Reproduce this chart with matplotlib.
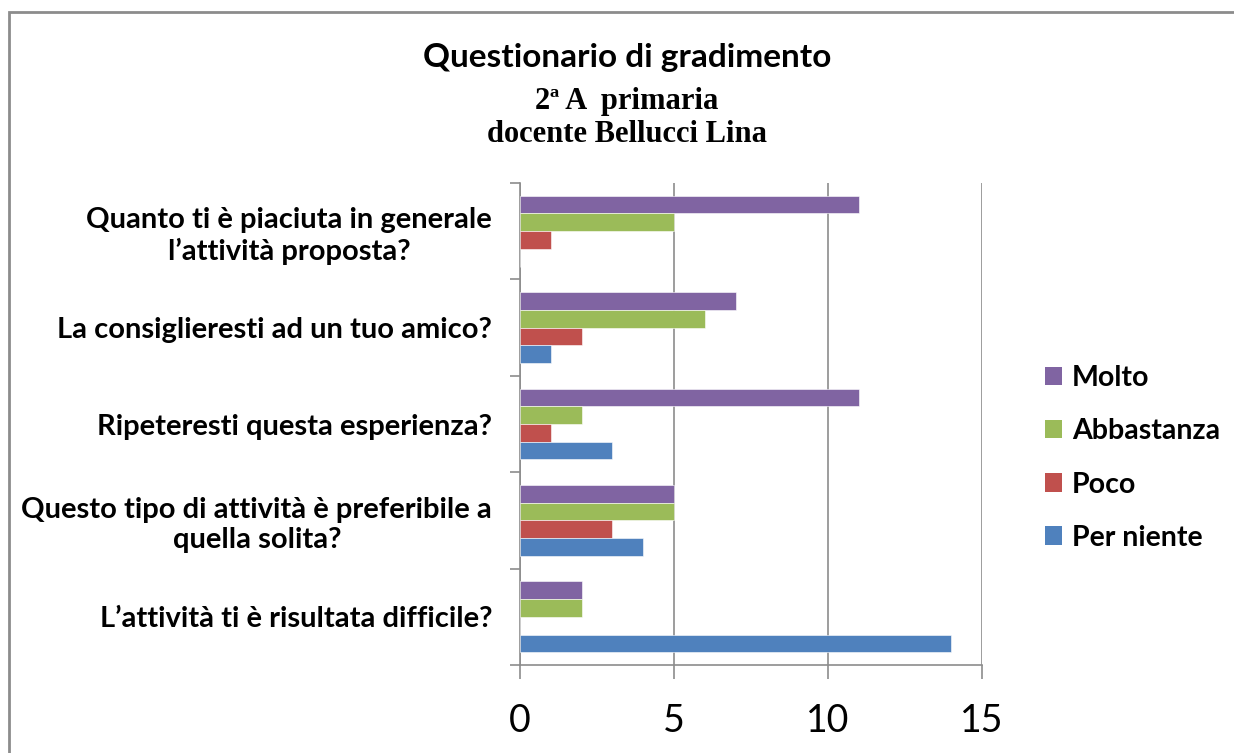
import matplotlib.pyplot as plt
import numpy as np
from matplotlib.patches import Rectangle, Patch

questions = [
    "Quanto ti è piaciuta in generale\nl\u2019attività proposta?",
    "La consiglieresti ad un tuo amico?",
    "Ripeteresti questa esperienza?",
    "Questo tipo di attività è preferibile a\nquella solita?",
    "L\u2019attività ti è risultata difficile?",
]
series = ["Molto", "Abbastanza", "Poco", "Per niente"]
molto = [11, 7, 11, 5, 2]
abbastanza = [5, 6, 2, 5, 2]
poco = [1, 2, 1, 3, 0]
per_niente = [0, 1, 3, 4, 14]
colors = ["#8064A2", "#9BBB59", "#C0504D", "#4F81BD"]

sans = "Lato"
grey = "#8c8c8c"

fig = plt.figure(figsize=(12.34, 7.53), dpi=100)
ax = fig.add_axes([520 / 1234, 1 - 665 / 753, 462 / 1234, 482 / 753])

y = np.arange(len(questions))
h = 0.184
for i, (vals, col) in enumerate(zip([molto, abbastanza, poco, per_niente], colors)):
    ax.barh(y + (i - 1.5) * h, vals, height=h, color=col,
            edgecolor="white", linewidth=0.4, label=series[i], zorder=3)

ax.set_xlim(0, 15)
ax.set_ylim(len(questions) - 0.5, -0.5)
ax.set_xticks([0, 5, 10, 15])
ax.set_xticklabels(["0", "5", "10", "15"], fontsize=27, family=sans)
ax.set_yticks(y)
ax.set_yticklabels(questions, fontsize=21, fontweight="bold", family=sans,
                   multialignment="center", linespacing=1.2)
ax.set_yticks(np.arange(-0.5, len(questions)), minor=True)
ax.tick_params(axis="y", which="major", length=0, pad=20)
ax.tick_params(axis="y", which="minor", length=7, color=grey, width=1.2)
ax.tick_params(axis="x", length=10, color=grey, width=1.2, pad=17)
ax.grid(axis="x", color=grey, linewidth=1.2, zorder=0)
for s in ["top", "right"]:
    ax.spines[s].set_visible(False)
for s in ["left", "bottom"]:
    ax.spines[s].set_color(grey)
    ax.spines[s].set_linewidth(1.2)

fig.text(627 / 1234, 1 - 57 / 753, "Questionario di gradimento", ha="center", va="center",
         fontsize=24, fontweight="bold", family=sans)
fig.text(627 / 1234, 1 - 101 / 753, "2ª A  primaria", ha="center", va="center",
         fontsize=22, fontweight="bold", family="Liberation Serif")
fig.text(627 / 1234, 1 - 134 / 753, "docente Bellucci Lina", ha="center", va="center",
         fontsize=22, fontweight="bold", family="Liberation Serif")

handles = [Patch(facecolor=c, label=s) for s, c in zip(series, colors)]
fig.legend(handles=handles, loc="center left", bbox_to_anchor=(1045 / 1234, 1 - 458 / 753),
           frameon=False, handlelength=0.6, handleheight=0.6, handletextpad=0.35,
           labelspacing=0.95, borderpad=0, borderaxespad=0,
           prop={"family": sans, "weight": "bold", "size": 20.5})

fig.patches.append(Rectangle((9 / 1234, -0.1), 1.2, 1.1 - 12 / 753, transform=fig.transFigure,
                             fill=False, edgecolor=grey, linewidth=2))

fig.savefig("out.png", dpi=100)
